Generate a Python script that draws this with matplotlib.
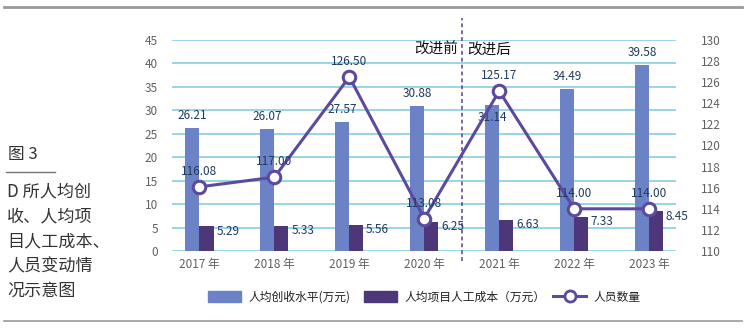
import matplotlib
matplotlib.use("Agg")
import matplotlib.pyplot as plt
from matplotlib.lines import Line2D
from matplotlib.patches import Patch
import numpy as np

plt.rcParams['font.family'] = ['Noto Sans CJK SC', 'DejaVu Sans']

years = ["2017 年", "2018 年", "2019 年", "2020 年", "2021 年", "2022 年", "2023 年"]
revenue = [26.21, 26.07, 27.57, 30.88, 31.14, 34.49, 39.58]
labor_cost = [5.29, 5.33, 5.56, 6.25, 6.63, 7.33, 8.45]
staff = [116.08, 117.00, 126.50, 113.08, 125.17, 114.00, 114.00]
left_ticks = [0, 5, 10, 15, 20, 25, 30, 35, 40, 45]
right_ticks = [110, 112, 114, 116, 118, 120, 122, 124, 126, 128, 130]

c_light = "#6b83c6"
c_dark = "#4e3778"
c_line = "#5b4a9e"
c_grid = "#86cde4"
c_tick = "#606060"
c_lbl = "#1f3a5f"

W, H = 746, 328
fig = plt.figure(figsize=(W / 100, H / 100), dpi=100)
ax = fig.add_axes([172 / W, 1 - 251 / H, (676 - 172) / W, (251 - 40) / H])
ax2 = ax.twinx()

x = np.arange(len(years))
bw = 0.187
ax.bar(x - bw / 2, revenue, bw, color=c_light, zorder=2)
ax.bar(x + bw / 2, labor_cost, bw, color=c_dark, zorder=2)

ax.set_xlim(-0.367, 6.36)
ax.set_ylim(0, 45)
ax.set_yticks(left_ticks)
for t in left_ticks:
    ax.axhline(t, color=c_grid, lw=1.2, zorder=1)
ax.set_xticks(x)
ax.set_xticklabels(years)
ax.tick_params(axis='both', length=0, colors=c_tick, labelsize=8.5)
ax.tick_params(axis='y', pad=10)
ax.tick_params(axis='x', pad=5)
for s in ax.spines.values():
    s.set_visible(False)

ax2.set_ylim(110, 130)
ax2.set_yticks(right_ticks)
ax2.tick_params(axis='y', length=0, colors=c_tick, labelsize=8.5, pad=18)
for s in ax2.spines.values():
    s.set_visible(False)
ax2.plot(x, staff, color=c_line, lw=2.2, marker='o', ms=9, mfc='white',
         mec=c_line, mew=2.2, zorder=5)

for i, v in enumerate(revenue):
    if i == 4:
        ax.annotate(f"{v:.2f}", (x[i] - bw / 2, v), xytext=(0, -9), textcoords='offset points',
                    ha='center', va='center', fontsize=8.5, color=c_lbl, zorder=6)
    else:
        ax.annotate(f"{v:.2f}", (x[i] - bw / 2, v), xytext=(0, 9), textcoords='offset points',
                    ha='center', va='center', fontsize=8.5, color=c_lbl, zorder=6)
for i, v in enumerate(labor_cost):
    ax.annotate(f"{v:.2f}", (x[i] + bw, v), xytext=(2, -3.5), textcoords='offset points',
                ha='left', va='center', fontsize=8.5, color=c_lbl, zorder=6)
for i, v in enumerate(staff):
    ax2.annotate(f"{v:.2f}", (x[i], v), xytext=(0, 11), textcoords='offset points',
                 ha='center', va='center', fontsize=8.5, color=c_lbl, zorder=6)

# divider
ax.plot([3.5, 3.5], [-2.2, 49.6], ls=(0, (2.5, 2)), color="#5b3f8a", lw=1.1,
        clip_on=False, zorder=3)
ax.text(3.45, 43, "改进前", ha='right', va='center', fontsize=10.5, color='#111111')
ax.text(3.57, 43, "改进后", ha='left', va='center', fontsize=10.5, color='#111111')

# frame rules
fig.add_artist(Line2D([4 / W, 742 / W], [1 - 7 / H, 1 - 7 / H], color="#9a9a9a", lw=2))
fig.add_artist(Line2D([4 / W, 742 / W], [1 - 321 / H, 1 - 321 / H], color="#9a9a9a", lw=1.2))

# left caption
fig.text(8 / W, 1 - 155 / H, "图 3", ha='left', va='center', fontsize=12, color='#333333')
fig.add_artist(Line2D([6 / W, 55 / W], [1 - 172 / H, 1 - 172 / H], color="#777777", lw=1))
cap = ["D 所人均创", "收、人均项", "目人工成本、", "人员变动情", "况示意图"]
for k, line in enumerate(cap):
    fig.text(7 / W, 1 - (191 + 25 * k) / H, line, ha='left', va='center',
             fontsize=12.3, color='#333333')

# legend: three single-entry legends placed at reference positions
fs = 8.5
fs_px = fs * 100 / 72
items = [
    (Patch(color=c_light), "人均创收水平(万元)", 208),
    (Patch(color=c_dark), "人均项目人工成本（万元）", 364),
    (Line2D([], [], color=c_line, lw=2.2, marker='o', ms=8, mfc='white', mew=2),
     "人员数量", 553),
]
for h, lab, xl in items:
    fig.legend([h], [lab], loc='center left', bbox_to_anchor=(xl / W, 1 - 297 / H),
               frameon=False, fontsize=fs, handlelength=(33 / fs_px), handleheight=0.95,
               handletextpad=0.65, borderpad=0, borderaxespad=0, labelcolor='#222222')

fig.savefig("out.png", dpi=100)
